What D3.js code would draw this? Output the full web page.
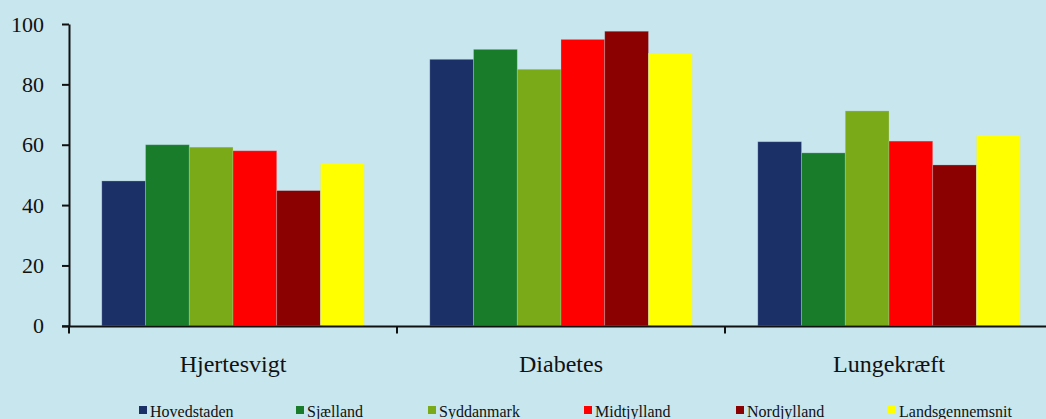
<!DOCTYPE html>
<html>
<head>
<meta charset="utf-8">
<script src="https://cdn.jsdelivr.net/npm/d3@7"></script>
<style>
  html, body { margin: 0; padding: 0; background: #c8e6ee; }
  svg { display: block; }
</style>
</head>
<body>
<svg id="chart" width="1046" height="419"></svg>
<script>
const categories = ["Hjertesvigt", "Diabetes", "Lungekræft"];
const seriesNames = ["Hovedstaden", "Sjælland", "Syddanmark", "Midtjylland", "Nordjylland", "Landsgennemsnit"];
const hovedstaden = [48, 88.3, 61];
const sjaelland = [60, 91.6, 57.3];
const syddanmark = [59.2, 85, 71.2];
const midtjylland = [58, 94.9, 61.2];
const nordjylland = [44.8, 97.6, 53.3];
const landsgennemsnit = [53.9, 90.3, 63.2];
const seriesValues = [hovedstaden, sjaelland, syddanmark, midtjylland, nordjylland, landsgennemsnit];
const colors = ["#1c3068", "#187c2a", "#7aaa17", "#ff0000", "#8b0000", "#ffff00"];
const yTicks = [0, 20, 40, 60, 80, 100];

const svg = d3.select("#chart");
const font = "'Liberation Serif', 'Times New Roman', serif";

svg.append("rect").attr("width", 1046).attr("height", 419).attr("fill", "#c8e6ee");

const x0 = d3.scaleBand().domain(categories).range([69, 1053]).paddingInner(0).paddingOuter(0);
const x1 = d3.scaleBand().domain(seriesNames).range([0, x0.bandwidth()]).paddingInner(0).paddingOuter(0.75);
const y = d3.scaleLinear().domain([0, 100]).range([325.8, 24]);

// bars
const groups = svg.append("g").selectAll("g")
  .data(categories).join("g")
  .attr("transform", d => `translate(${x0(d)},0)`);

groups.selectAll("rect")
  .data((c, ci) => seriesNames.map((s, si) => ({ s, si, v: seriesValues[si][ci] })))
  .join("rect")
  .attr("x", d => x1(d.s))
  .attr("y", d => y(d.v))
  .attr("width", x1.bandwidth())
  .attr("height", d => y(0) - y(d.v))
  .attr("fill", d => colors[d.si])
  .attr("stroke", "rgba(200,220,230,0.35)")
  .attr("stroke-width", 0.8);

// y axis
const yAxis = svg.append("g")
  .attr("transform", "translate(69,0)")
  .call(d3.axisLeft(y).tickValues(yTicks).tickSize(7).tickSizeOuter(0).tickPadding(18));
yAxis.select(".domain").attr("stroke", "#111").attr("stroke-width", 2);
yAxis.selectAll(".tick line").attr("stroke", "#111").attr("stroke-width", 2);
yAxis.selectAll(".tick text")
  .attr("font-family", font).attr("font-size", 22).attr("fill", "#111");

// x axis
const xAxisY = y(0) + 0.7;
svg.append("line")
  .attr("x1", 62).attr("x2", 1053)
  .attr("y1", xAxisY).attr("y2", xAxisY)
  .attr("stroke", "#111").attr("stroke-width", 2);
svg.append("g").selectAll("line")
  .data(categories).join("line")
  .attr("x1", d => x0(d)).attr("x2", d => x0(d))
  .attr("y1", xAxisY).attr("y2", xAxisY + 7)
  .attr("stroke", "#111").attr("stroke-width", 2);
svg.append("g").selectAll("text")
  .data(categories).join("text")
  .attr("x", d => x0(d) + x0.bandwidth() / 2)
  .attr("y", 372)
  .attr("text-anchor", "middle")
  .attr("font-family", font).attr("font-size", 24).attr("fill", "#111")
  .text(d => d);

// legend
const legendX = [139, 296, 428, 584, 736, 888];
const legend = svg.append("g").selectAll("g")
  .data(seriesNames).join("g")
  .attr("transform", (d, i) => `translate(${legendX[i]},0)`);
legend.append("rect")
  .attr("x", 0).attr("y", 406).attr("width", 8).attr("height", 8)
  .attr("fill", (d, i) => colors[i]);
legend.append("text")
  .attr("x", 11).attr("y", 416.5)
  .attr("font-family", font).attr("font-size", 16).attr("fill", "#111")
  .text(d => d);
</script>
</body>
</html>
